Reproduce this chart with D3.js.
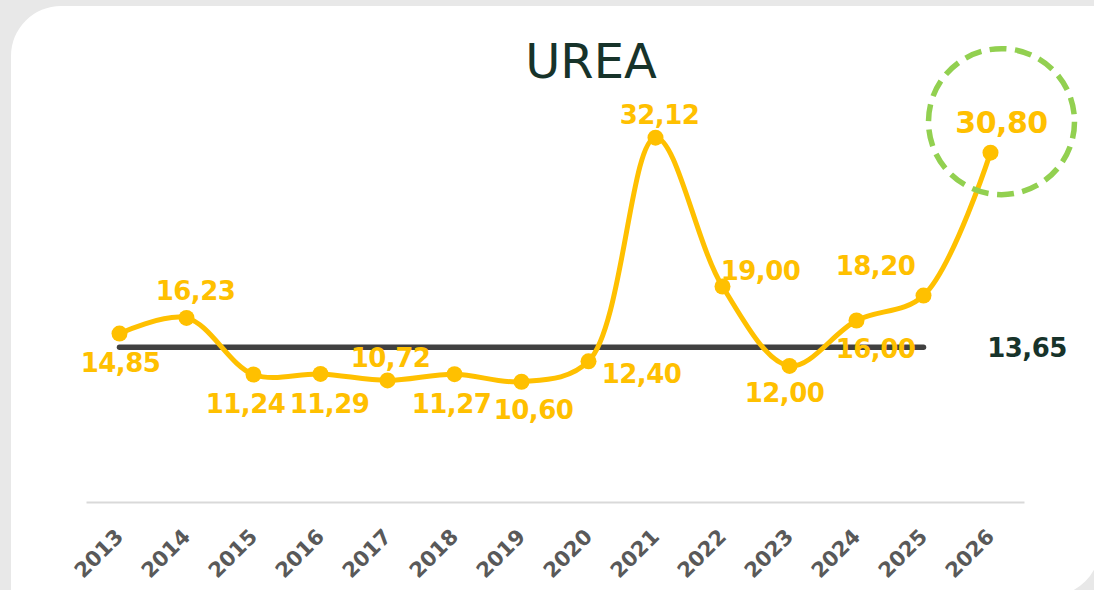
<!DOCTYPE html>
<html>
<head>
<meta charset="utf-8">
<script src="https://cdn.jsdelivr.net/npm/d3@7"></script>
<style>
  html, body { margin: 0; padding: 0; background: #e8e8e8; }
  svg { display: block; }
</style>
</head>
<body>
<svg id="chart" width="1094" height="590"></svg>
<script>
// Urea price series, one value per year
const years = ["2013","2014","2015","2016","2017","2018","2019","2020","2021","2022","2023","2024","2025","2026"];
const prices = [14.85, 16.23, 11.24, 11.29, 10.72, 11.27, 10.60, 12.40, 32.12, 19.00, 12.00, 16.00, 18.20, 30.80];
const averageValue = 13.65;
const averageYears = ["2013", "2025"];
const highlightYear = "2026";
const titleText = "UREA";

// Where each value label sits relative to its point [dx, dy of baseline]
const labelOffsets = [
  [1, 38], [9, -18], [-8, 38], [9, 39], [3, -13], [-3, 39], [12, 37],
  [53, 22], [4, -14], [38, -6], [-5, 36], [19, 37], [-48, -21], [11, -20]
];

const fmt = v => v.toFixed(2).replace(".", ",");

const svg = d3.select("#chart");

// Card: rounded top-left and bottom-right corners, other edges run off the page
const card = d3.path();
const L = 11, T = 6, R = 1100, B = 596, r = 50;
card.moveTo(L, T + r);
card.arcTo(L, T, L + r, T, r);
card.lineTo(R + 200, T);
card.lineTo(R + 200, B - r - 200);
card.lineTo(R, B - r - 200);
card.lineTo(R, B - r);
card.arcTo(R, B, R - r, B, r);
card.lineTo(L, B);
card.closePath();
svg.append("path").attr("d", card.toString()).attr("fill", "#ffffff");

const x = d3.scaleBand().domain(years).range([86, 1024]).padding(0);
const y = d3.scaleLinear().domain([0, 35]).range([502, 105]);
const cx = d => x(d) + x.bandwidth() / 2;

// Title
svg.append("text")
  .attr("x", 591).attr("y", 78)
  .attr("text-anchor", "middle")
  .attr("font-family", "DejaVu Sans, sans-serif")
  .attr("font-size", 48)
  .attr("fill", "#17332a")
  .text(titleText);

// X axis
const axis = svg.append("g")
  .attr("transform", `translate(0,${y(0)})`)
  .call(d3.axisBottom(x).tickSize(0).tickSizeOuter(0));
axis.select(".domain").attr("stroke", "#d9d9d9").attr("stroke-width", 2);
axis.selectAll(".tick text")
  .attr("font-family", "DejaVu Sans, sans-serif")
  .attr("font-weight", "bold")
  .attr("font-size", 21)
  .attr("fill", "#595959")
  .attr("text-anchor", "end")
  .attr("dy", 0)
  .attr("y", 0)
  .attr("transform", "translate(5,36) rotate(-45)");

// Average line
svg.append("line")
  .attr("x1", cx(averageYears[0])).attr("x2", cx(averageYears[1]))
  .attr("y1", y(averageValue)).attr("y2", y(averageValue))
  .attr("stroke", "#404040").attr("stroke-width", 5.5)
  .attr("stroke-linecap", "round");

svg.append("text")
  .attr("x", 1027).attr("y", y(averageValue) + 10)
  .attr("text-anchor", "middle")
  .attr("font-family", "DejaVu Sans, sans-serif")
  .attr("font-weight", "bold")
  .attr("font-size", 26)
  .attr("letter-spacing", -0.5)
  .attr("fill", "#17332a")
  .text(fmt(averageValue));

const data = years.map((yr, i) => ({ year: yr, value: prices[i], off: labelOffsets[i] }));

// Price line
const line = d3.line()
  .x(d => cx(d.year))
  .y(d => y(d.value))
  .curve(d3.curveCatmullRom.alpha(0.5));

svg.append("path")
  .datum(data)
  .attr("d", line)
  .attr("fill", "none")
  .attr("stroke", "#ffc000")
  .attr("stroke-width", 5)
  .attr("stroke-linejoin", "round");

svg.selectAll("circle.pt")
  .data(data)
  .join("circle")
  .attr("class", "pt")
  .attr("cx", d => cx(d.year))
  .attr("cy", d => y(d.value))
  .attr("r", 8)
  .attr("fill", "#ffc000");

// Value labels
svg.selectAll("text.val")
  .data(data)
  .join("text")
  .attr("class", "val")
  .attr("x", d => cx(d.year) + d.off[0])
  .attr("y", d => y(d.value) + d.off[1])
  .attr("text-anchor", "middle")
  .attr("font-family", "DejaVu Sans, sans-serif")
  .attr("font-weight", "bold")
  .attr("font-size", d => d.year === highlightYear ? 30 : 26)
  .attr("letter-spacing", -0.5)
  .attr("fill", "#ffc000")
  .text(d => fmt(d.value));

// Dashed highlight ring around the latest value
const hl = data.find(d => d.year === highlightYear);
svg.append("circle")
  .attr("cx", cx(hl.year) + 11)
  .attr("cy", y(hl.value) - 31)
  .attr("r", 73)
  .attr("fill", "none")
  .attr("stroke", "#92d050")
  .attr("stroke-width", 5.5)
  .attr("stroke-dasharray", "17 8.5");
</script>
</body>
</html>
